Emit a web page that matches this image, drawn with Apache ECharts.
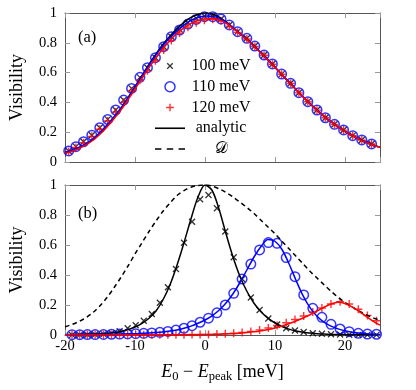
<!DOCTYPE html>
<html><head><meta charset="utf-8">
<script src="https://cdn.jsdelivr.net/npm/echarts@6/dist/echarts.min.js"></script>
<style>html,body{margin:0;padding:0;background:#fff}#c{width:416px;height:390px}</style>
</head><body><div id="c"></div>
<script>
// ---- data ----
const xTicks = [-20, -10, 0, 10, 20];
const yTicks = [0, 0.2, 0.4, 0.6, 0.8, 1];
const legendNames = ['100 meV', '110 meV', '120 meV', 'analytic', '𝒟'];

// (a) simulated points
const topX = [-19.47,-18.44,-17.35,-16.17,-15.03,-13.9,-12.76,-11.62,-10.49,-9.3,-8.22,-7.08,-5.9,-4.81,-3.63,-2.44,-1.26,-0.08,1.1,2.29,3.47,4.66,5.98,7.12,8.44,9.63,10.95,12.23,13.41,14.69,16.0,17.2,18.5,19.8,21.1,22.4,23.8];
const topV100 = [0.074,0.103,0.136,0.18,0.23,0.286,0.349,0.416,0.494,0.568,0.633,0.70,0.774,0.841,0.89,0.935,0.965,0.98,0.978,0.96,0.92,0.875,0.83,0.778,0.718,0.658,0.59,0.528,0.465,0.405,0.349,0.297,0.253,0.215,0.177,0.148,0.121];
const topV110 = [0.074,0.103,0.136,0.18,0.23,0.286,0.349,0.416,0.494,0.568,0.633,0.70,0.774,0.841,0.886,0.926,0.957,0.975,0.975,0.96,0.92,0.875,0.83,0.778,0.718,0.658,0.59,0.528,0.465,0.405,0.349,0.297,0.253,0.215,0.177,0.148,0.121];
const topV120 = [0.07,0.098,0.13,0.172,0.22,0.275,0.335,0.4,0.475,0.548,0.613,0.68,0.752,0.815,0.865,0.905,0.935,0.952,0.958,0.948,0.912,0.87,0.826,0.775,0.716,0.656,0.589,0.527,0.464,0.404,0.348,0.297,0.252,0.214,0.177,0.147,0.121];

// analytic curves sampled on lineX
const lineX = [-20,-19,-18,-17,-16,-15,-14,-13,-12,-11,-10,-9,-8,-7,-6,-5,-4,-3,-2,-1,0,1,2,3,4,5,6,7,8,9,10,11,12,13,14,15,16,17,18,19,20,21,22,23,24,25];
const topLine100 = [0.062,0.077,0.096,0.12,0.152,0.195,0.245,0.3,0.36,0.43,0.505,0.58,0.655,0.725,0.79,0.845,0.895,0.937,0.97,0.99,1.0,0.993,0.972,0.94,0.9,0.862,0.822,0.778,0.733,0.685,0.636,0.586,0.536,0.487,0.438,0.392,0.348,0.307,0.27,0.236,0.206,0.179,0.155,0.134,0.115,0.098];
const topLine110 = [0.064,0.079,0.098,0.123,0.156,0.198,0.248,0.303,0.363,0.432,0.505,0.578,0.65,0.72,0.782,0.835,0.882,0.92,0.95,0.97,0.98,0.979,0.965,0.937,0.9,0.862,0.822,0.778,0.733,0.685,0.636,0.586,0.536,0.487,0.438,0.392,0.348,0.307,0.27,0.236,0.206,0.179,0.155,0.134,0.115,0.098];
const topLine120 = [0.058,0.073,0.091,0.115,0.146,0.186,0.235,0.29,0.35,0.418,0.49,0.562,0.633,0.7,0.762,0.816,0.862,0.9,0.93,0.95,0.96,0.963,0.955,0.932,0.897,0.86,0.821,0.777,0.732,0.684,0.635,0.585,0.535,0.486,0.437,0.391,0.347,0.306,0.269,0.235,0.205,0.178,0.154,0.133,0.114,0.097];

// (b) simulated points
const botX = [-19.0,-17.9,-16.8,-15.7,-14.5,-13.35,-12.2,-11.05,-9.9,-8.75,-7.6,-6.45,-5.3,-4.15,-3.0,-1.85,-0.7,0.5,1.7,2.9,4.1,5.3,6.55,7.8,9.05,10.3,11.6,12.85,14.1,15.4,16.7,18.0,19.3,20.6,21.9,23.2,24.5];
const botV100 = [0.001,0.001,0.002,0.003,0.006,0.012,0.025,0.045,0.065,0.095,0.14,0.215,0.318,0.44,0.615,0.755,0.905,0.933,0.845,0.69,0.518,0.373,0.25,0.167,0.11,0.07,0.045,0.03,0.02,0.012,0.008,0.005,0.003,0.002,0.001,0.001,0.001];
const botV110 = [0.002,0.002,0.003,0.003,0.004,0.005,0.006,0.007,0.009,0.011,0.014,0.018,0.024,0.033,0.045,0.062,0.085,0.112,0.148,0.2,0.278,0.373,0.473,0.567,0.616,0.611,0.516,0.389,0.267,0.178,0.118,0.071,0.04,0.022,0.011,0.006,0.005];
const botV120 = [0.001,0.001,0.001,0.001,0.001,0.001,0.001,0.001,0.001,0.001,0.001,0.001,0.002,0.002,0.002,0.003,0.003,0.004,0.006,0.009,0.012,0.017,0.024,0.034,0.047,0.063,0.082,0.103,0.127,0.153,0.18,0.207,0.222,0.207,0.172,0.13,0.095];

const botLine100 = [0.003,0.003,0.004,0.005,0.006,0.008,0.011,0.016,0.024,0.036,0.053,0.078,0.112,0.16,0.235,0.335,0.465,0.615,0.775,0.92,1.0,0.965,0.84,0.675,0.52,0.39,0.29,0.212,0.155,0.112,0.08,0.056,0.039,0.027,0.019,0.013,0.009,0.006,0.004,0.003,0.002,0.001,0.001,0.001,0.001,0.001];
const botLine110 = [0.002,0.002,0.003,0.003,0.003,0.004,0.005,0.005,0.006,0.008,0.009,0.011,0.013,0.016,0.02,0.026,0.034,0.045,0.059,0.078,0.1,0.128,0.165,0.213,0.275,0.35,0.435,0.52,0.59,0.636,0.625,0.57,0.475,0.365,0.262,0.182,0.125,0.086,0.059,0.041,0.028,0.019,0.013,0.009,0.006,0.004];
const botLine120 = [0,0,0,0,0,0,0,0,0,0,0.001,0.001,0.001,0.001,0.001,0.001,0.001,0.002,0.002,0.002,0.003,0.004,0.005,0.007,0.009,0.012,0.016,0.021,0.028,0.036,0.047,0.06,0.075,0.093,0.113,0.135,0.16,0.185,0.207,0.218,0.21,0.188,0.158,0.125,0.093,0.066];
const botD = [0.055,0.07,0.09,0.116,0.15,0.195,0.25,0.315,0.385,0.46,0.54,0.615,0.69,0.76,0.825,0.88,0.93,0.963,0.985,0.997,1.0,0.993,0.975,0.95,0.92,0.885,0.85,0.81,0.765,0.72,0.675,0.625,0.575,0.525,0.475,0.425,0.38,0.335,0.292,0.252,0.218,0.187,0.16,0.136,0.115,0.097];

// ---- chart ----
const FONT = '"Liberation Serif", "DejaVu Serif", serif';
const zip = (xs, ys) => xs.map((x, i) => [x, ys[i]]);
const CROSS = 'path://M0,0L10,10M10,0L0,10';
const PLUS = 'path://M5,0L5,10M0,5L10,5';

function xAx(grid, pos, labels, name) {
  return {
    type: 'value', gridIndex: grid, position: pos,
    min: xTicks[0], max: 25, interval: xTicks[1] - xTicks[0],
    axisLine: { show: true, onZero: false, lineStyle: { color: '#555', width: 1 } },
    axisTick: { show: true, inside: true, length: 5, lineStyle: { color: '#999', width: 1 } },
    axisLabel: { show: labels, margin: 4, color: '#000', fontFamily: FONT, fontSize: 14.5,
      formatter: v => (xTicks.indexOf(v) >= 0 ? String(v) : '') },
    splitLine: { show: false },
    name: name || '', nameLocation: 'middle', nameGap: 26,
    nameTextStyle: { color: '#000', rich: {
      i: { fontFamily: FONT, fontStyle: 'italic', fontSize: 18, lineHeight: 22 },
      n: { fontFamily: FONT, fontSize: 18, lineHeight: 22 },
      s: { fontFamily: FONT, fontSize: 12.5, lineHeight: 12.5, verticalAlign: 'bottom' }
    } }
  };
}
function yAx(grid, pos, labels, name) {
  return {
    type: 'value', gridIndex: grid, position: pos,
    min: yTicks[0], max: yTicks[yTicks.length - 1], interval: yTicks[1] - yTicks[0],
    axisLine: { show: true, onZero: false, lineStyle: { color: '#555', width: 1 } },
    axisTick: { show: true, inside: true, length: 5, lineStyle: { color: '#999', width: 1 } },
    axisLabel: { show: labels, margin: 8, color: '#000', fontFamily: FONT, fontSize: 14.5 },
    splitLine: { show: false },
    name: name || '', nameLocation: 'middle', nameGap: 39,
    nameTextStyle: { color: '#000', fontFamily: FONT, fontSize: 18 }
  };
}
function pts(name, xi, data, symbol, size, color, bw) {
  return { type: 'scatter', name, xAxisIndex: xi, yAxisIndex: xi, data, symbol, symbolSize: size,
    itemStyle: { color: 'transparent', borderColor: color, borderWidth: bw }, silent: true, z: 3 };
}
function curve(name, xi, data, color, dash) {
  return { type: 'line', name, xAxisIndex: xi, yAxisIndex: xi, data, showSymbol: false, symbol: 'none',
    smooth: 0.3, lineStyle: { color, width: 1.5, type: dash ? [4.5, 3.5] : 'solid' }, itemStyle: { color },
    silent: true, z: 4 };
}

const chart = echarts.init(document.getElementById('c'), null, { renderer: 'canvas' });
chart.setOption({
  animation: false,
  backgroundColor: '#fff',
  grid: [
    { left: 63, top: 13, width: 317, height: 149 },
    { left: 63, top: 185, width: 317, height: 150 }
  ],
  xAxis: [
    xAx(0, 'bottom', false),
    xAx(0, 'top', false),
    xAx(1, 'bottom', true, '{i|E}{s|0}{n| − }{i|E}{s|peak}{n| [meV]}'),
    xAx(1, 'top', false)
  ],
  yAxis: [
    yAx(0, 'left', true, 'Visibility'),
    yAx(0, 'right', false),
    yAx(1, 'left', true, 'Visibility'),
    yAx(1, 'right', false)
  ],
  legend: {
    left: 155, top: 58, padding: 0, orient: 'vertical', itemWidth: 30, itemHeight: 10, itemGap: 4.75,
    selectedMode: false,
    data: [
      { name: legendNames[0], icon: 'path://M-4,-4M0,0L10,10M10,0L0,10M14,14',
        itemStyle: { color: 'transparent', borderColor: '#000', borderWidth: 1.3 } },
      { name: legendNames[1], icon: 'circle',
        itemStyle: { color: 'transparent', borderColor: '#0000ff', borderWidth: 1.5 } },
      { name: legendNames[2], icon: 'path://M-1.5,-1.5M5,0L5,10M0,5L10,5M11.5,11.5',
        itemStyle: { color: 'transparent', borderColor: '#ff0000', borderWidth: 1.4 } },
      { name: legendNames[3], icon: 'path://M0,0L30,0L30,1.6L0,1.6Z',
        itemStyle: { color: '#000', borderWidth: 0 } },
      { name: legendNames[4], icon: 'path://M0,0L6,0L6,1.5L0,1.5ZM11,0L17,0L17,1.5L11,1.5ZM22,0L28,0L28,1.5L22,1.5Z',
        itemStyle: { color: '#000', borderWidth: 0 } }
    ],
    formatter: n => '{t|' + n + '}',
    textStyle: { rich: { t: { width: 62, align: 'center', fontSize: 16, lineHeight: 16, fontFamily: FONT, color: '#000' } } }
  },
  graphic: [
    { type: 'text', left: 78, top: 29, style: { text: '(a)', font: '16.5px "Liberation Serif"', fill: '#000' } },
    { type: 'text', left: 78, top: 205, style: { text: '(b)', font: '16.5px "Liberation Serif"', fill: '#000' } }
  ],
  series: [
    pts('100 meV', 0, zip(topX, topV100), CROSS, 6, '#000', 1.3),
    curve('analytic', 0, zip(lineX, topLine100), '#000'),
    pts('110 meV', 0, zip(topX, topV110), 'circle', 9.5, '#0000ff', 1.5),
    curve('a110', 0, zip(lineX, topLine110), '#0000ff'),
    pts('120 meV', 0, zip(topX, topV120), PLUS, 8, '#ff0000', 1.4),
    curve('a120', 0, zip(lineX, topLine120), '#ff0000'),

    curve('𝒟', 2, zip(lineX, botD), '#000', true),
    pts('100 meV', 2, zip(botX, botV100), CROSS, 6, '#000', 1.3),
    curve('b100', 2, zip(lineX, botLine100), '#000'),
    pts('110 meV', 2, zip(botX, botV110), 'circle', 9.5, '#0000ff', 1.5),
    curve('b110', 2, zip(lineX, botLine110), '#0000ff'),
    pts('120 meV', 2, zip(botX, botV120), PLUS, 8, '#ff0000', 1.4),
    curve('b120', 2, zip(lineX, botLine120), '#ff0000')
  ]
});
</script></body></html>
